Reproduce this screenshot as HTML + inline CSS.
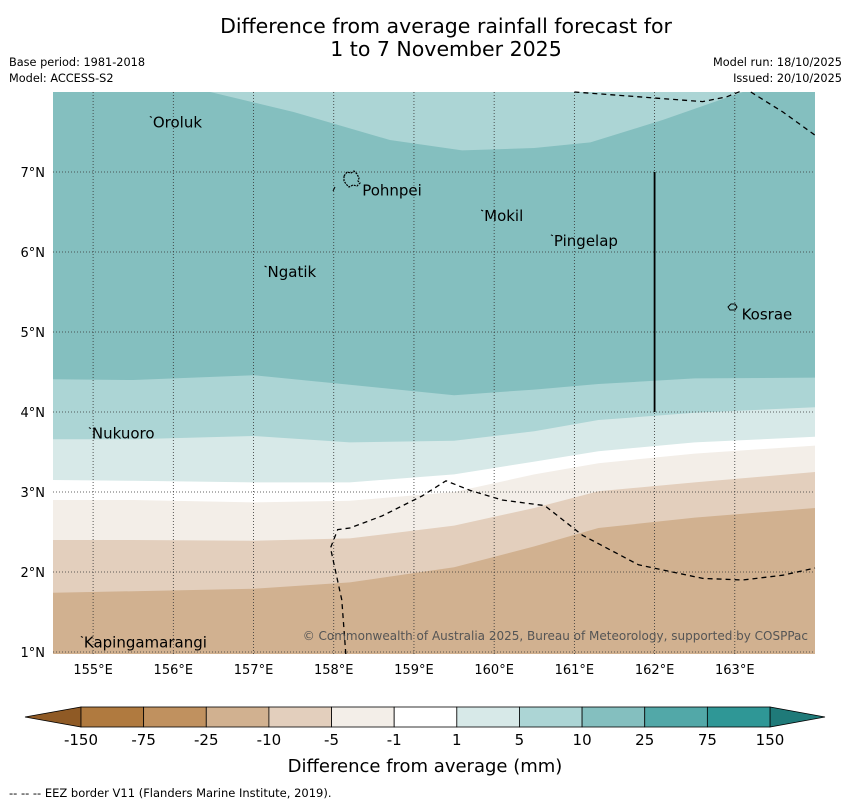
<!DOCTYPE html>
<html><head><meta charset="utf-8"><style>
body{margin:0;background:#fff;font-family:"DejaVu Sans","Liberation Sans",sans-serif}
svg{display:block}
</style></head><body>
<svg id="c" width="850" height="804" xmlns="http://www.w3.org/2000/svg">
<text x="446" y="33" text-anchor="middle" font-size="20.5">Difference from average rainfall forecast for</text>
<text x="446" y="56" text-anchor="middle" font-size="20.5">1 to 7 November 2025</text>
<text x="9" y="66" font-size="11.3">Base period: 1981-2018</text>
<text x="9" y="82" font-size="11.3">Model: ACCESS-S2</text>
<text x="842" y="66" font-size="11.3" text-anchor="end">Model run: 18/10/2025</text>
<text x="842" y="82" font-size="11.3" text-anchor="end">Issued: 20/10/2025</text>
<g id="map"></g>
<g id="cbar"></g>
<text x="425" y="772" text-anchor="middle" font-size="18">Difference from average (mm)</text>
<text x="9" y="797" font-size="11.5">--  --  -- EEZ border V11 (Flanders Marine Institute, 2019).</text>
</svg>
<script>
const NS='http://www.w3.org/2000/svg';
const lonMin=154.5,lonMax=164.0,latMin=0.975,latMax=8.0;
const X0=53,X1=815,Y0=92,Y1=654;
const lonTicks=[155,156,157,158,159,160,161,162,163];
const latTicks=[1,2,3,4,5,6,7];
const levels=[-150,-75,-25,-10,-5,-1,1,5,10,25,75,150];
const levelColors=['#b07a3f','#c0915f','#d1b190','#e3cfbd','#f3eee8','#ffffff','#d7e9e8','#acd5d5','#84bfbf','#52a8a8','#2f9796'];
const bLons=[154.5,155.5,157.0,158.2,159.5,160.5,161.3,162.5,164.0];
const b10_25top=[[156.46,8],[157.5,7.75],[158.7,7.4],[159.6,7.27],[160.5,7.3],[161.2,7.37],[162.1,7.65],[163.1,8]];
const b5_10=[4.41,4.40,4.46,4.34,4.21,4.28,4.35,4.42,4.43];
const b1_5=[3.66,3.66,3.70,3.62,3.64,3.76,3.90,3.99,4.06];
const bm1_1=[3.15,3.14,3.12,3.12,3.22,3.38,3.51,3.62,3.69];
const bm5_m1=[2.90,2.90,2.87,2.89,3.00,3.22,3.36,3.48,3.58];
const bm10_m5=[2.40,2.40,2.39,2.42,2.58,2.80,3.01,3.12,3.25];
const bm25_m10=[1.74,1.76,1.79,1.87,2.06,2.32,2.55,2.68,2.80];
const eezMain=[[158.15,0.975],[158.1,1.65],[157.96,2.3],[158.05,2.53],[158.2,2.55],[158.6,2.7],[159.1,2.95],[159.4,3.14],[159.7,3.02],[160.1,2.9],[160.63,2.83],[161.1,2.46],[161.8,2.09],[162.6,1.92],[163.1,1.9],[163.6,1.96],[164.0,2.05]];
const eezTop1=[[161.0,8],[162.6,7.88],[162.9,7.94],[163.1,8.02]];
const eezTop2=[[163.2,8],[163.6,7.75],[164.0,7.46]];
const islands=[['Oroluk',155.72,7.62],['Pohnpei',158.33,6.77],['Mokil',159.85,6.45],['Pingelap',160.72,6.14],['Ngatik',157.15,5.75],['Kosrae',163.06,5.22],['Nukuoro',154.96,3.73],['Kapingamarangi',154.86,1.12]];
function xs(l){return X0+(l-lonMin)/(lonMax-lonMin)*(X1-X0);}
function ys(l){return Y0+(latMax-l)/(latMax-latMin)*(Y1-Y0);}
const map=document.getElementById('map');
function mk(t,a,p){const e=document.createElementNS(NS,t);for(const k in a)e.setAttribute(k,a[k]);(p||map).appendChild(e);return e;}
function pts(arr){return arr.map(p=>xs(p[0]).toFixed(1)+','+ys(p[1]).toFixed(1)).join(' ');}
function line(lats){return bLons.map((l,i)=>[l,lats[i]]);}
let bg=mk('rect',{x:X0,y:Y0,width:X1-X0,height:Y1-Y0,fill:levelColors[2]});


const bands=[[bm25_m10,3,'band-minus10-minus5'],[bm10_m5,4,'band-minus5-minus1'],[bm5_m1,5,'band-minus1-1'],[bm1_1,6,'band-1-5'],[b1_5,7,'band-5-10'],[b5_10,8,'band-10-25']];
bands.forEach(b=>{
  const top=[[lonMax,latMax],[lonMin,latMax]];
  const p=mk('polygon',{points:pts(line(b[0]).concat(top)),fill:levelColors[b[1]]});
  
  
});
let tp=mk('polygon',{points:pts(b10_25top),fill:levelColors[7]});


lonTicks.forEach(l=>{
  const g=mk('line',{x1:xs(l),x2:xs(l),y1:Y0,y2:Y1,stroke:'#333','stroke-width':0.8,'stroke-dasharray':'1,2'});
  
  
  const t=mk('text',{x:xs(l),y:Y1+20,'text-anchor':'middle','font-size':13});t.textContent=l+'°E';
  
  
});
latTicks.forEach(l=>{
  const g=mk('line',{x1:X0,x2:X1,y1:ys(l),y2:ys(l),stroke:'#333','stroke-width':0.8,'stroke-dasharray':'1,2'});
  
  
  const t=mk('text',{x:X0-8,y:ys(l)+5,'text-anchor':'end','font-size':13});t.textContent=l+'°N';
  
  
});
[eezMain,eezTop1,eezTop2].forEach(a=>{
  const e=mk('polyline',{points:pts(a),fill:'none',stroke:'#000','stroke-width':1.3,'stroke-dasharray':'5,4'});
  
  
});
let vl=mk('line',{x1:xs(162),x2:xs(162),y1:ys(7),y2:ys(4.0),stroke:'#000','stroke-width':1.8});


let pp=mk('path',{d:'M344,176 l3,-4 4,1 3,-2 3,3 2,4 -1,3 2,2 -3,3 -4,-1 -4,2 -3,-3 -2,-3z',fill:'none',stroke:'#000','stroke-width':1.2,'stroke-dasharray':'2,1'});


let ap=mk('line',{x1:335,y1:187,x2:333,y2:191,stroke:'#000','stroke-width':1});


let kp=mk('path',{d:'M728,307 l3,-3 4,0 2,3 -2,3 -5,0z',fill:'none',stroke:'#000','stroke-width':1});


islands.forEach(i=>{
  const t=mk('text',{x:xs(i[1])+2,y:ys(i[2])+5,'font-size':15});t.textContent=i[0];
  
  
  if(i[0]!=='Pohnpei'&&i[0]!=='Kosrae'){
    const m=mk('line',{x1:xs(i[1])-1,y1:ys(i[2])-6,x2:xs(i[1])+1,y2:ys(i[2])-5,stroke:'#000','stroke-width':1});
    
    
  }
});
let cp=mk('text',{x:808,y:640,'text-anchor':'end','font-size':12,fill:'#555'});cp.textContent='© Commonwealth of Australia 2025, Bureau of Meteorology, supported by COSPPac';


const cb=document.getElementById('cbar');
const cx0=81,cx1=770,cy0=707,cy1=727,n=levelColors.length,sw=(cx1-cx0)/n;
let lt=mk('polygon',{points:`25,717 ${cx0},${cy0} ${cx0},${cy1}`,fill:'#8f5a25',stroke:'#000','stroke-width':0.8},cb);


let rt=mk('polygon',{points:`825,717 ${cx1},${cy0} ${cx1},${cy1}`,fill:'#1f7a79',stroke:'#000','stroke-width':0.8},cb);


levelColors.forEach((c,i)=>{
  const r=mk('rect',{x:cx0+i*sw,y:cy0,width:sw,height:cy1-cy0,fill:c,stroke:'#000','stroke-width':0.8},cb);
  
  
});
levels.forEach((v,i)=>{
  const t=mk('text',{x:cx0+i*sw,y:745,'text-anchor':'middle','font-size':15},cb);t.textContent=v;
  
  
});
</script>
</body></html>
